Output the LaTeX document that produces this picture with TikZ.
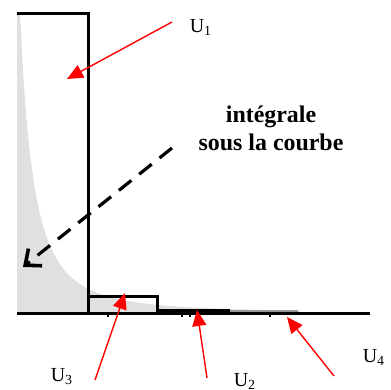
\documentclass[tikz,border=0pt]{standalone}
\usepackage{fontspec}
\setmainfont{Liberation Serif}
\usepackage{tikz}
\usetikzlibrary{positioning}
\usetikzlibrary{arrows.meta}

\begin{document}
\begin{tikzpicture}[x=0.5bp, y=-0.5bp,
		label style/.style={inner sep=0pt, font=\fontsize{10}{12}\selectfont},
		red edge/.style={red, line width=0.7bp, -{Triangle[length=8bp,width=7bp]}},
		dashed edge/.style={black, line width=1.6bp, dash pattern=on 8bp off 5bp, -{Straight Barb[length=6.5bp,width=11bp,line width=1.8bp]}},
		bar edge/.style={black, line width=1.5bp}
		]
		\useasboundingbox (0,0) rectangle (391,390);
		% area under the curve
		\fill[black!12] (17,313) -- (17,14) -- (20,14)
			-- plot[domain=20:300, samples=80, smooth] (\x, {313 - 21.96*(100/(\x+7.1))^2})
			-- (300,313) -- cycle;
		% rectangles
		\draw[bar edge, line join=miter] (17,14) -- (88,14) -- (88,313);
		\draw[bar edge] (88,313) -- (88,296) -- (157,296) -- (157,313);
		\draw[black, line width=1.4bp] (157,310.5) -- (230,310.5);
		\draw[black!40, line width=1.2bp] (230,311) -- (298,311);
		\draw[bar edge] (17,313) -- (370,313);
		\foreach \t in {108, 182, 190, 270}
			\fill (\t-1,314) rectangle (\t+1,317);

		% labels
		\node[label style] (u1) at (201,27) {U\textsubscript{1}};
		\node[label style] (u3) at (62,377) {U\textsubscript{3}};
		\node[label style] (u2) at (245,381) {U\textsubscript{2}};
		\node[label style] (u4) at (374,357) {U\textsubscript{4}};
		\node[align=center, inner sep=0pt, font=\fontsize{12}{14}\selectfont\bfseries] (txt) at (271,128) {intégrale\\sous la courbe};

		\coordinate (s1) at (172,22);
		\coordinate (t1) at (67,79);
		\coordinate (s3) at (95,380);
		\coordinate (t3) at (125,293);
		\coordinate (s2) at (207,378);
		\coordinate (t2) at (197,310);
		\coordinate (s4) at (334,376);
		\coordinate (t4) at (287,317);
		\coordinate (ds) at (172,148);
		\coordinate (dt) at (23,267);

		\draw[red edge] (s1) -- (t1);
		\draw[red edge] (s3) -- (t3);
		\draw[red edge] (s2) -- (t2);
		\draw[red edge] (s4) -- (t4);
		\draw[dashed edge] (ds) -- (dt);
	\end{tikzpicture}
\end{document}
